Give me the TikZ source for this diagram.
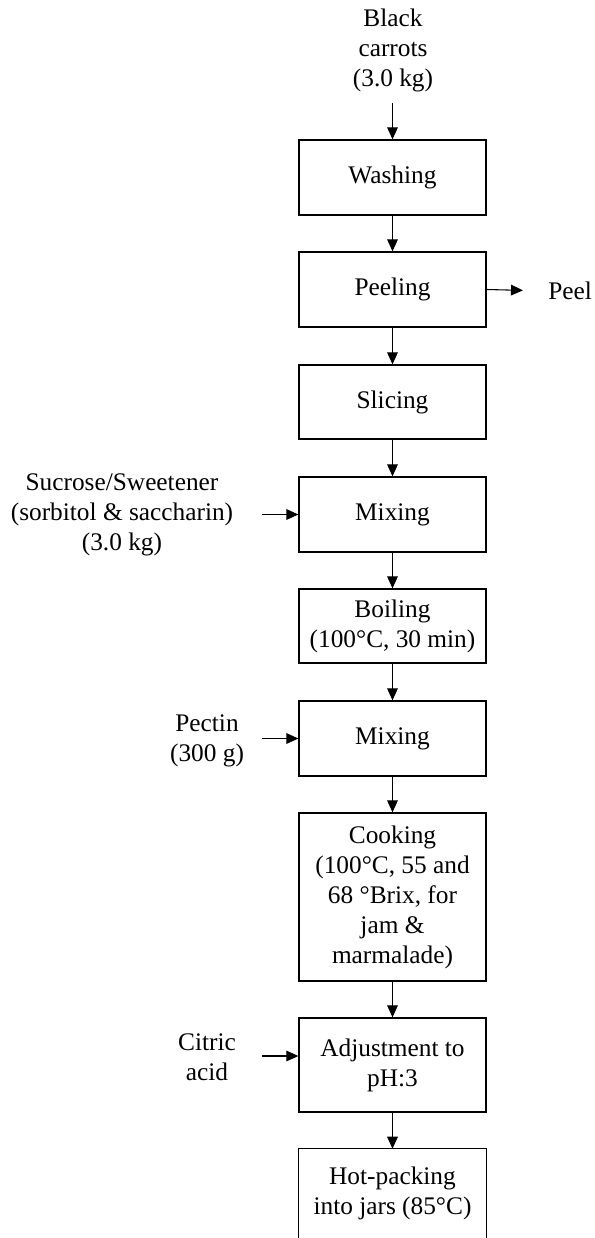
\documentclass[tikz,border=0pt]{standalone}
\usepackage{fontspec}
\setmainfont{Liberation Serif}
\usetikzlibrary{arrows.meta}
\tikzset{
  box/.style={draw, line width=1pt, minimum width=140.25pt, inner sep=0pt, align=center},
  lbl/.style={align=center, inner sep=0pt},
  arr/.style={line width=0.8pt, -{Triangle[length=9pt,width=8pt]}}
}
\begin{document}
\begin{tikzpicture}[x=0.75pt,y=-0.75pt,font=\fontsize{19}{22.5}\selectfont]
\useasboundingbox (0,0) rectangle (594,1238);
% input label
\node[lbl] (carrots) at (393,50) {Black\\carrots\\(3.0 kg)};
\coordinate (cin) at (392.5,103);
% boxes
\node[box, minimum height=56.25pt] (wash) at (392.5,177.5) {Washing};
\node[box, minimum height=56.25pt] (peeling) at (392.5,289.5) {Peeling};
\node[box, minimum height=55.5pt] (slice) at (392.5,402) {Slicing};
\node[box, minimum height=56.25pt] (mix1) at (392.5,514.5) {Mixing};
\node[box, minimum height=55.5pt] (boil) at (392.5,626) {Boiling\\(100\textdegree C, 30 min)};
\node[box, minimum height=56.25pt] (mix2) at (392.5,738.5) {Mixing};
\node[box, minimum height=126pt] (cook) at (392.5,897) {Cooking\\(100\textdegree C, 55 and\\68 \textdegree Brix, for\\jam \&\\marmalade)};
\node[box, minimum height=70.5pt] (adj) at (392.5,1065) {Adjustment to\\pH:3};
\node[lbl, minimum width=140.25pt, minimum height=66.75pt] (hot) at (392.5,1193.5) {Hot-packing\\into jars (85\textdegree C)};
\draw[line width=1pt] (hot.south west) -- (hot.north west) -- (hot.north east) -- (hot.south east);
% side labels
\node[lbl, anchor=west] (peel) at (548,291) {Peel};
\node[lbl] (sucrose) at (122,515) {Sucrose/Sweetener\\(sorbitol \& saccharin)\\(3.0 kg)};
\node[lbl] (pectin) at (207,741) {Pectin\\(300 g)};
\node[lbl] (citric) at (207,1057) {Citric\\acid};
\coordinate (sin) at (262,514.5);
\coordinate (pin) at (262,738.5);
\coordinate (ain) at (262,1056);
% connectors
\draw[arr] (cin) -- (wash.north);
\draw[arr] (wash) -- (peeling);
\draw[arr] (peeling) -- (slice);
\draw[arr] (slice) -- (mix1);
\draw[arr] (mix1) -- (boil);
\draw[arr] (boil) -- (mix2);
\draw[arr] (mix2) -- (cook);
\draw[arr] (cook) -- (adj);
\draw[arr] (adj.south) -- (hot.north);
\draw[arr, shorten >=18.75pt] (peeling.east) -- (peel.west);
\draw[arr] (sin) -- (mix1.west);
\draw[arr] (pin) -- (mix2.west);
\draw[arr] (ain) -- (ain -| adj.west);
\end{tikzpicture}
\end{document}
